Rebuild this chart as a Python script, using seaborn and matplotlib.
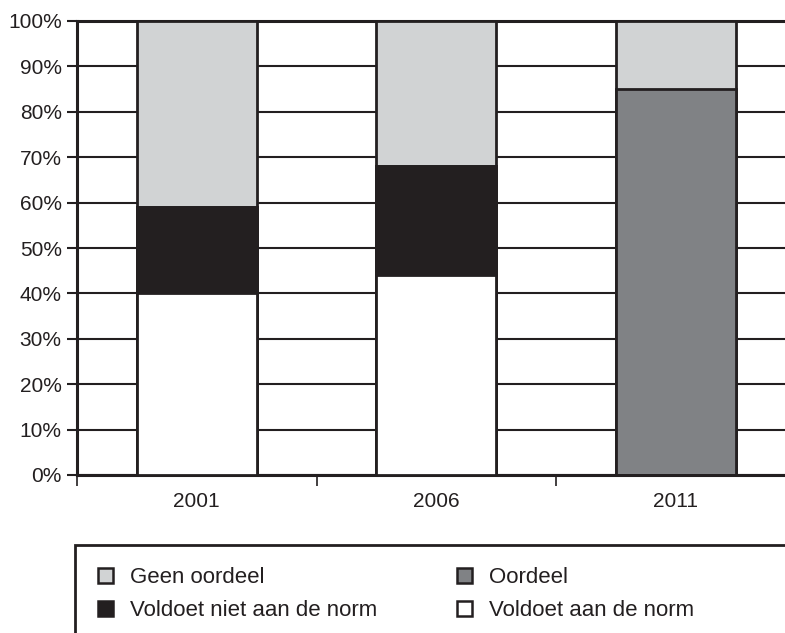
import matplotlib
matplotlib.use("Agg")
import matplotlib.pyplot as plt
import seaborn as sns
import pandas as pd
from matplotlib.patches import Patch, Rectangle
from matplotlib.ticker import FixedLocator, PercentFormatter

# data (percentages)
years = ["2001", "2006", "2011"]
voldoet = [40, 44, 0]
voldoet_niet = [19, 24, 0]
oordeel = [0, 0, 85]
geen_oordeel = [41, 32, 15]

labels = ["Geen oordeel", "Voldoet niet aan de norm", "Oordeel", "Voldoet aan de norm"]
colors = {"Geen oordeel": "#d1d3d4", "Oordeel": "#808285",
          "Voldoet niet aan de norm": "#231f20", "Voldoet aan de norm": "#ffffff"}

sns.set_style("white")
plt.rcParams["font.family"] = ["Liberation Sans", "DejaVu Sans"]

df = pd.DataFrame({"year": years, "Voldoet aan de norm": voldoet,
                   "Voldoet niet aan de norm": voldoet_niet,
                   "Oordeel": oordeel, "Geen oordeel": geen_oordeel})

# stack order from bottom to top
stack = ["Voldoet aan de norm", "Voldoet niet aan de norm", "Oordeel", "Geen oordeel"]
cum = df[stack].cumsum(axis=1)

fig = plt.figure(figsize=(7.85, 6.33), dpi=100)
ax = fig.add_axes([77 / 785, 1 - 475 / 633, 718.5 / 785, 454 / 633])

# draw cumulative layers, tallest first
for seg in reversed(stack):
    sns.barplot(x=df["year"], y=cum[seg], color=colors[seg], width=0.5,
                edgecolor="#231f20", linewidth=2, saturation=1, ax=ax, zorder=3)

ax.set_xlim(-0.5, 2.5)
ax.set_ylim(0, 100)
ax.set_yticks(range(0, 101, 10))
ax.yaxis.set_major_formatter(PercentFormatter(decimals=0))
ax.yaxis.grid(True, color="#231f20", linewidth=1.5, zorder=0)
ax.set_axisbelow(True)
ax.set_xlabel("")
ax.set_ylabel("")

for s in ["left", "bottom", "top"]:
    ax.spines[s].set_visible(True)
    ax.spines[s].set_color("#231f20")
    ax.spines[s].set_linewidth(2.2)
ax.spines["right"].set_visible(False)

ax.tick_params(axis="y", which="major", direction="out", length=7, width=1.5,
               color="#231f20", labelsize=15, labelcolor="#231f20", pad=4, left=True)
ax.tick_params(axis="x", which="major", length=0, labelsize=15, labelcolor="#231f20", pad=12)
ax.xaxis.set_minor_locator(FixedLocator([-0.5, 0.5, 1.5]))
ax.tick_params(axis="x", which="minor", direction="out", length=8, width=1.2,
               color="#231f20", bottom=True)

# legend box (cut off at right and bottom like the source)
fig.patches.append(Rectangle((75 / 785, -0.05), 1.0, 0.05 + 1 - 545 / 633,
                             transform=fig.transFigure, fill=False,
                             edgecolor="#231f20", linewidth=2))

handles = [Patch(facecolor=colors[l], edgecolor="#231f20", linewidth=1.8, label=l)
           for l in labels]
fig.legend(handles=handles, loc="upper left", bbox_to_anchor=(98 / 785, 1 - 567 / 633),
           ncol=2, frameon=False, fontsize=16, handlelength=0.68, handleheight=0.68,
           handletextpad=0.75, columnspacing=3.6, labelspacing=0.55, borderpad=0,
           borderaxespad=0, labelcolor="#231f20")

fig.savefig("out.png", dpi=100)
